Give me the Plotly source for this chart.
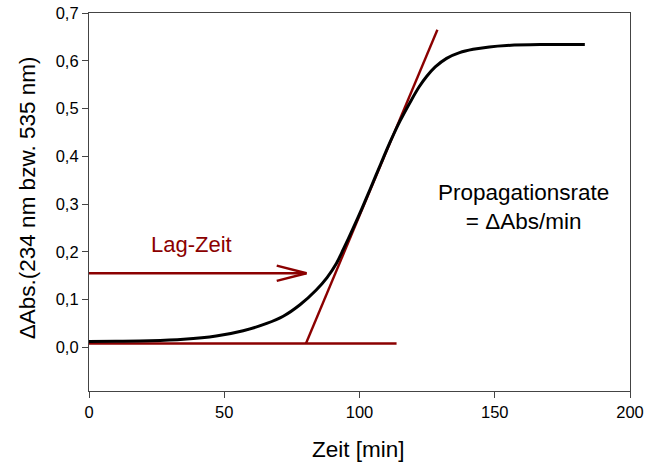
import plotly.graph_objects as go

# Absorbance curve (Zeit in min, Delta Abs)
zeit = [0, 10, 22.5, 35, 47, 57, 65.7, 71.8, 78, 84, 88, 91.5, 94, 97.7,
        101, 104, 108, 111.5, 115, 119.2, 122, 124.8, 128, 132.2, 137, 142,
        148, 154.4, 166.7, 183.3]
dabs = [0.012, 0.0125, 0.0135, 0.0167, 0.0236, 0.0347, 0.050, 0.065, 0.089,
        0.120, 0.146, 0.176, 0.205, 0.250, 0.292, 0.332, 0.386, 0.432, 0.474,
        0.518, 0.545, 0.567, 0.587, 0.605, 0.617, 0.624, 0.629, 0.632, 0.634,
        0.634]

# Construction lines
baseline_x = [-1, 113.7]
baseline_y = [0.008, 0.008]
tangent_x = [80.2, 128.8]
tangent_y = [0.008, 0.665]

# Lag-time arrow
lag_time = 80.4
arrow_start = -1
arrow_y = 0.155
head_len = 11
head_half = 0.016

x_ticks = [0, 50, 100, 150, 200]
y_ticks = [0.0, 0.1, 0.2, 0.3, 0.4, 0.5, 0.6, 0.7]

red = "#8b0000"
font = "Liberation Sans, Arial, sans-serif"

fig = go.Figure()

fig.add_trace(go.Scatter(x=baseline_x, y=baseline_y, mode="lines",
                         line=dict(color=red, width=2.6), cliponaxis=False))
fig.add_trace(go.Scatter(x=tangent_x, y=tangent_y, mode="lines",
                         line=dict(color=red, width=2.4), cliponaxis=False))
fig.add_trace(go.Scatter(x=zeit, y=dabs, mode="lines",
                         line=dict(color="black", width=3, shape="spline", smoothing=0.8),
                         cliponaxis=False))
fig.add_trace(go.Scatter(x=[arrow_start, lag_time], y=[arrow_y, arrow_y], mode="lines",
                         line=dict(color=red, width=2.4), cliponaxis=False))
fig.add_trace(go.Scatter(
    x=[lag_time - head_len, lag_time, lag_time - head_len],
    y=[arrow_y + head_half, arrow_y, arrow_y - head_half],
    mode="lines", line=dict(color=red, width=2.4), cliponaxis=False))

fig.add_annotation(x=37.9, y=0.216, text="Lag-Zeit", showarrow=False,
                   font=dict(family=font, size=22, color=red),
                   xanchor="center", yanchor="middle")
fig.add_annotation(x=160.8, y=0.293, text="Propagationsrate<br>= ΔAbs/min",
                   showarrow=False, align="center",
                   font=dict(family=font, size=22.5, color="black"),
                   xanchor="center", yanchor="middle")

# axis titles
fig.add_annotation(xref="paper", yref="paper", x=0.499, y=-0.156,
                   text="Zeit [min]", showarrow=False,
                   font=dict(family=font, size=22.5, color="black"),
                   xanchor="center", yanchor="middle")
fig.add_annotation(xref="paper", yref="paper", x=-0.1146, y=0.51,
                   text="ΔAbs.(234 nm bzw. 535 nm)", showarrow=False, textangle=-90,
                   font=dict(family=font, size=22.5, color="black"),
                   xanchor="center", yanchor="middle")

axis_common = dict(showline=True, linecolor="#444", linewidth=1.2, mirror=True,
                   ticks="outside", ticklen=6, tickcolor="#444", tickwidth=1.2,
                   showgrid=False, zeroline=False, automargin=False,
                   tickfont=dict(family=font, size=16.5, color="black"))

fig.update_xaxes(range=[0, 200], tickvals=x_ticks, ticktext=[str(v) for v in x_ticks],
                 **axis_common)
fig.update_yaxes(range=[-0.0915, 0.7], tickvals=y_ticks,
                 ticktext=[f"{v:.1f}".replace(".", ",") for v in y_ticks],
                 **axis_common)

fig.update_layout(width=647, height=468, showlegend=False,
                  margin=dict(l=89, r=17, t=13, b=77, autoexpand=False),
                  paper_bgcolor="white", plot_bgcolor="white",
                  font=dict(family=font))

fig.write_html("out.html")
